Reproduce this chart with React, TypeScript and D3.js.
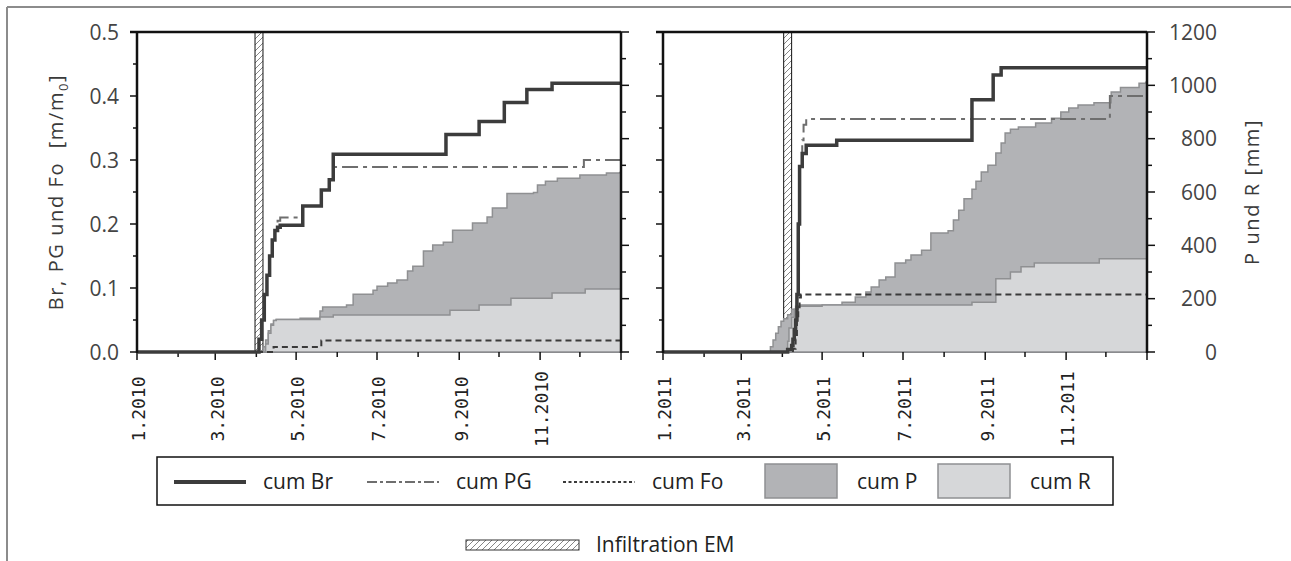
import React from "react";
import * as d3 from "d3";

type Pt = [string, number];

// ---------- tick labels ----------
const yLeftMajor = [0, 0.1, 0.2, 0.3, 0.4, 0.5];
const yLeftMinor = [0.05, 0.15, 0.25, 0.35, 0.45];
const yRightMajor = [0, 200, 400, 600, 800, 1000, 1200];
const yRightMinor = [100, 300, 500, 700, 900, 1100];
const xLabels2010 = ["1.2010", "3.2010", "5.2010", "7.2010", "9.2010", "11.2010"];
const xLabels2011 = ["1.2011", "3.2011", "5.2011", "7.2011", "9.2011", "11.2011"];
const legendNames = ["cum Br", "cum PG", "cum Fo", "cum P", "cum R"];
const infiltrationName = "Infiltration EM";

// ---------- 2010 series (Br, PG, Fo in m/m0; P, R in mm) ----------
const br2010: Pt[] = [
  ["2010-01-01", 0], ["2010-04-01", 0], ["2010-04-03", 0.02], ["2010-04-05", 0.05],
  ["2010-04-07", 0.09], ["2010-04-09", 0.12], ["2010-04-11", 0.15], ["2010-04-13", 0.175],
  ["2010-04-15", 0.19], ["2010-04-17", 0.195], ["2010-04-19", 0.198], ["2010-05-06", 0.228],
  ["2010-05-20", 0.253], ["2010-05-26", 0.269], ["2010-05-29", 0.309], ["2010-08-22", 0.34],
  ["2010-09-16", 0.36], ["2010-10-05", 0.39], ["2010-10-22", 0.41], ["2010-11-10", 0.42],
];
const pg2010: Pt[] = [
  ["2010-01-01", 0], ["2010-04-01", 0], ["2010-04-03", 0.02], ["2010-04-05", 0.05],
  ["2010-04-07", 0.09], ["2010-04-09", 0.12], ["2010-04-11", 0.15], ["2010-04-13", 0.175],
  ["2010-04-15", 0.19], ["2010-04-17", 0.205], ["2010-04-19", 0.21], ["2010-05-06", 0.228],
  ["2010-05-20", 0.253], ["2010-05-26", 0.269], ["2010-05-29", 0.289], ["2010-12-04", 0.3],
];
const fo2010: Pt[] = [["2010-01-01", 0], ["2010-04-14", 0.008], ["2010-05-20", 0.018]];
const p2010: Pt[] = [
  ["2010-01-01", 0], ["2010-04-04", 0], ["2010-04-06", 20], ["2010-04-08", 45], ["2010-04-10", 80],
  ["2010-04-12", 105], ["2010-04-14", 118], ["2010-04-16", 122], ["2010-05-04", 127],
  ["2010-05-19", 154], ["2010-05-21", 169], ["2010-06-08", 176], ["2010-06-13", 217],
  ["2010-06-28", 232], ["2010-07-01", 247], ["2010-07-09", 259], ["2010-07-16", 270],
  ["2010-07-24", 304], ["2010-07-28", 322], ["2010-08-05", 379], ["2010-08-12", 401],
  ["2010-08-20", 412], ["2010-08-27", 457], ["2010-09-11", 484], ["2010-09-22", 506],
  ["2010-09-26", 540], ["2010-10-07", 594], ["2010-10-27", 598], ["2010-10-30", 626],
  ["2010-11-05", 640], ["2010-11-14", 652], ["2010-12-01", 664], ["2010-12-21", 671],
  ["2010-12-31", 673],
];
const r2010: Pt[] = [
  ["2010-01-01", 0], ["2010-04-06", 0], ["2010-04-08", 30], ["2010-04-10", 70], ["2010-04-12", 100],
  ["2010-04-14", 118], ["2010-04-16", 122], ["2010-05-19", 131], ["2010-05-29", 139],
  ["2010-08-25", 157], ["2010-09-16", 176], ["2010-10-10", 202], ["2010-11-10", 221],
  ["2010-12-05", 236],
];
const infil2010 = { start: "2010-03-31", end: "2010-04-06", from: 0, to: 0.5 };

// ---------- 2011 series ----------
const br2011: Pt[] = [
  ["2011-01-01", 0], ["2011-04-01", 0], ["2011-04-05", 0.004], ["2011-04-08", 0.01],
  ["2011-04-09", 0.02], ["2011-04-10", 0.035], ["2011-04-11", 0.05], ["2011-04-12", 0.09],
  ["2011-04-13", 0.2], ["2011-04-14", 0.29], ["2011-04-16", 0.31], ["2011-04-19", 0.323],
  ["2011-05-12", 0.331], ["2011-08-22", 0.394], ["2011-09-07", 0.433], ["2011-09-13", 0.444],
];
const pg2011: Pt[] = [
  ["2011-01-01", 0], ["2011-04-01", 0], ["2011-04-05", 0.004], ["2011-04-08", 0.01],
  ["2011-04-09", 0.02], ["2011-04-10", 0.035], ["2011-04-11", 0.05], ["2011-04-12", 0.09],
  ["2011-04-13", 0.2], ["2011-04-14", 0.29], ["2011-04-16", 0.331], ["2011-04-17", 0.355],
  ["2011-04-19", 0.364], ["2011-12-04", 0.4],
];
const fo2011: Pt[] = [
  ["2011-01-01", 0], ["2011-04-09", 0.005], ["2011-04-11", 0.02], ["2011-04-12", 0.05],
  ["2011-04-13", 0.07], ["2011-04-14", 0.085], ["2011-04-15", 0.09],
];
const p2011: Pt[] = [
  ["2011-01-01", 0], ["2011-03-21", 0], ["2011-03-23", 20], ["2011-03-25", 45], ["2011-03-27", 70],
  ["2011-03-29", 95], ["2011-03-31", 115], ["2011-04-02", 125], ["2011-04-05", 140],
  ["2011-04-08", 160], ["2011-04-11", 172], ["2011-04-14", 176], ["2011-05-16", 187],
  ["2011-05-26", 206], ["2011-06-03", 225], ["2011-06-07", 244], ["2011-06-13", 270],
  ["2011-06-18", 281], ["2011-06-25", 334], ["2011-07-03", 345], ["2011-07-07", 364],
  ["2011-07-15", 382], ["2011-07-22", 446], ["2011-08-04", 455], ["2011-08-08", 495],
  ["2011-08-12", 532], ["2011-08-16", 575], ["2011-08-22", 610], ["2011-08-25", 640],
  ["2011-08-29", 675], ["2011-09-03", 700], ["2011-09-09", 746], ["2011-09-13", 784],
  ["2011-09-16", 821], ["2011-09-20", 835], ["2011-09-26", 844], ["2011-10-09", 859],
  ["2011-10-21", 877], ["2011-10-28", 900], ["2011-11-03", 915], ["2011-11-10", 926],
  ["2011-11-22", 935], ["2011-12-05", 975], ["2011-12-12", 992], ["2011-12-26", 1008],
  ["2011-12-31", 1012],
];
const r2011: Pt[] = [
  ["2011-01-01", 0], ["2011-04-04", 0], ["2011-04-05", 40], ["2011-04-06", 90], ["2011-04-08", 130],
  ["2011-04-10", 160], ["2011-04-13", 172], ["2011-05-01", 176], ["2011-08-22", 187],
  ["2011-09-09", 275], ["2011-09-20", 300], ["2011-09-28", 320], ["2011-10-08", 334],
  ["2011-11-26", 350],
];
const infil2011 = { start: "2011-04-02", end: "2011-04-08", from: 0.05, to: 0.5 };

// ---------- layout ----------
const W = 1291;
const H = 561;
const TOP = 32;
const BOT = 352;
const FONT = "'Open Sans', 'Noto Sans', sans-serif";
const MONO = "'DejaVu Sans Mono', monospace";

const C = {
  br: "#3c3c3c",
  pg: "#6e6e6e",
  fo: "#3a3a3a",
  pFill: "#b2b3b6",
  rFill: "#d6d7d9",
  edge: "#8f9092",
  text: "#3a3a3a",
};

const parse = d3.timeParse("%Y-%m-%d");

type PanelProps = {
  year: number;
  x0: number;
  x1: number;
  br: Pt[];
  pg: Pt[];
  fo: Pt[];
  p: Pt[];
  r: Pt[];
  infil: { start: string; end: string; from: number; to: number };
  xLabels: string[];
  leftLabels: boolean;
  rightLabels: boolean;
};

function Panel(props: PanelProps) {
  const { year, x0, x1, br, pg, fo, p, r, infil, xLabels, leftLabels, rightLabels } = props;
  const x = d3.scaleTime().domain([new Date(year, 0, 1), new Date(year + 1, 0, 1)]).range([x0, x1]);
  const y = d3.scaleLinear().domain([0, 0.5]).range([BOT, TOP]);
  const ym = d3.scaleLinear().domain([0, 1200]).range([BOT, TOP]);

  const toPts = (s: Pt[]) => {
    const pts = s.map(([d, v]) => ({ d: parse(d) as Date, v }));
    pts.push({ d: x.domain()[1], v: pts[pts.length - 1].v });
    return pts;
  };

  const line = d3
    .line<{ d: Date; v: number }>()
    .x((d) => x(d.d))
    .y((d) => y(d.v))
    .curve(d3.curveStepAfter);
  const area = d3
    .area<{ d: Date; v: number }>()
    .x((d) => x(d.d))
    .y0(ym(0))
    .y1((d) => ym(d.v))
    .curve(d3.curveStepAfter);

  const months = d3.timeMonth.range(new Date(year, 0, 1), new Date(year + 1, 0, 2));
  const labelDates = xLabels.map((l) => new Date(year, parseInt(l.split(".")[0], 10) - 1, 1));

  const ix0 = x(parse(infil.start) as Date);
  const ix1 = x(parse(infil.end) as Date);

  return (
    <g>
      {/* infiltration bar */}
      <rect x={ix0} y={y(infil.to)} width={ix1 - ix0} height={y(infil.from) - y(infil.to)} fill="url(#hatch)" stroke="#111" strokeWidth={1} />

      {/* bottom axis line */}
      <line x1={x0} x2={x1} y1={BOT} y2={BOT} stroke="#111" strokeWidth={1.5} />

      {/* areas */}
      <path d={area(toPts(p)) || ""} fill={C.pFill} stroke={C.edge} strokeWidth={1.5} />
      <path d={area(toPts(r)) || ""} fill={C.rFill} stroke={C.edge} strokeWidth={1.5} />

      {/* bottom ticks */}
      {months.map((m, i) => {
        const major = m.getMonth() % 2 === 0;
        return <line key={i} x1={x(m)} x2={x(m)} y1={BOT} y2={BOT + (major ? 8 : 5)} stroke="#111" strokeWidth={1.5} />;
      })}
      {xLabels.map((l, i) => (
        <text
          key={l}
          transform={`translate(${x(labelDates[i]) + 2},${409}) rotate(-90)`}
          textAnchor="middle"
          dy="0.35em"
          fontFamily={MONO}
          fontSize={18}
          fill="#222"
        >
          {l}
        </text>
      ))}

      {/* left axis ticks (m/m0) */}
      {yLeftMajor.map((v) => (
        <line key={"lm" + v} x1={x0 - 7} x2={x0} y1={y(v)} y2={y(v)} stroke="#111" strokeWidth={1.5} />
      ))}
      {yLeftMinor.map((v) => (
        <line key={"ln" + v} x1={x0 - 4} x2={x0} y1={y(v)} y2={y(v)} stroke="#111" strokeWidth={1.5} />
      ))}
      {leftLabels &&
        yLeftMajor.map((v) => (
          <text key={"lt" + v} x={x0 - 18} y={y(v)} dy="0.36em" textAnchor="end" fontFamily={FONT} fontSize={21} fill="#444">
            {d3.format(".1f")(v)}
          </text>
        ))}

      {/* right axis ticks (mm) */}
      {yRightMajor.map((v) => (
        <line key={"rm" + v} x1={x1} x2={x1 + 8} y1={ym(v)} y2={ym(v)} stroke="#111" strokeWidth={1.5} />
      ))}
      {yRightMinor.map((v) => (
        <line key={"rn" + v} x1={x1} x2={x1 + 5} y1={ym(v)} y2={ym(v)} stroke="#111" strokeWidth={1.5} />
      ))}
      {rightLabels &&
        yRightMajor.map((v) => (
          <text key={"rt" + v} x={x1 + 70} y={ym(v)} dy="0.36em" textAnchor="end" fontFamily={FONT} fontSize={21} fill="#444">
            {v}
          </text>
        ))}

      {/* lines */}
      <path d={line(toPts(fo)) || ""} fill="none" stroke={C.fo} strokeWidth={2} strokeDasharray="6,4" />
      <path d={line(toPts(pg)) || ""} fill="none" stroke={C.pg} strokeWidth={2} strokeDasharray="16,5,4,5" />
      <path d={line(toPts(br)) || ""} fill="none" stroke={C.br} strokeWidth={3.5} />

      {/* frame */}
      <line x1={x0 - 7} x2={x1} y1={TOP} y2={TOP} stroke="#111" strokeWidth={2.5} />
      <line x1={x0} x2={x0} y1={TOP} y2={BOT + 1} stroke="#111" strokeWidth={2.5} />
      <line x1={x1} x2={x1} y1={TOP} y2={BOT + 1} stroke="#111" strokeWidth={2.5} />
    </g>
  );
}

export default function App() {
  const legendLines = [
    { name: legendNames[0], x: 174, stroke: C.br, width: 4, dash: "" },
    { name: legendNames[1], x: 367, stroke: C.pg, width: 2, dash: "10,3,3,3" },
    { name: legendNames[2], x: 563, stroke: C.fo, width: 2, dash: "3,2.5" },
  ];
  const legendBoxes = [
    { name: legendNames[3], x: 765, fill: C.pFill },
    { name: legendNames[4], x: 938, fill: C.rFill },
  ];
  return (
    <svg width={W} height={H} style={{ position: "absolute", left: 0, top: 0, background: "#fff" }}>
      <defs>
        <pattern id="hatch" patternUnits="userSpaceOnUse" width="6" height="6">
          <path d="M0,6 L6,0 M-1.5,1.5 L1.5,-1.5 M4.5,7.5 L7.5,4.5" stroke="#666" strokeWidth={0.8} />
        </pattern>
      </defs>
      <rect x={0} y={0} width={W} height={H} fill="#fff" />
      {/* outer frame */}
      <line x1={7} x2={W} y1={7} y2={7} stroke="#8c8c8c" strokeWidth={2} />
      <line x1={7} x2={7} y1={7} y2={H} stroke="#8c8c8c" strokeWidth={2} />

      <Panel year={2010} x0={137} x1={621} br={br2010} pg={pg2010} fo={fo2010} p={p2010} r={r2010} infil={infil2010} xLabels={xLabels2010} leftLabels={true} rightLabels={false} />
      <Panel year={2011} x0={663} x1={1147} br={br2011} pg={pg2011} fo={fo2011} p={p2011} r={r2011} infil={infil2011} xLabels={xLabels2011} leftLabels={false} rightLabels={true} />

      {/* axis titles */}
      <text transform={`translate(56,${(TOP + BOT) / 2}) rotate(-90)`} textAnchor="middle" dy="0.35em" fontFamily={FONT} fontSize={20} letterSpacing={1.6} fill={C.text} style={{ whiteSpace: "pre" }}>
        {"Br, PG und Fo  [m/m"}
        <tspan fontSize={13} dy="5">0</tspan>
        <tspan dy="-5">]</tspan>
      </text>
      <text transform={`translate(1252,${(TOP + BOT) / 2}) rotate(-90)`} textAnchor="middle" dy="0.35em" fontFamily={FONT} fontSize={20} letterSpacing={1.6} fill={C.text}>
        P und R [mm]
      </text>

      {/* legend */}
      <rect x={157} y={457} width={956} height={48} fill="#fff" stroke="#111" strokeWidth={1.5} />
      {legendLines.map((l) => (
        <g key={l.name}>
          <line x1={l.x} x2={l.x + 72} y1={482} y2={482} stroke={l.stroke} strokeWidth={l.width} strokeDasharray={l.dash || undefined} />
          <text x={l.x + 89} y={482} dy="0.35em" fontFamily={FONT} fontSize={21} fill="#222">
            {l.name}
          </text>
        </g>
      ))}
      {legendBoxes.map((b) => (
        <g key={b.name}>
          <rect x={b.x} y={464} width={72} height={34} fill={b.fill} stroke={C.edge} strokeWidth={1.5} />
          <text x={b.x + 92} y={482} dy="0.35em" fontFamily={FONT} fontSize={21} fill="#222">
            {b.name}
          </text>
        </g>
      ))}
      <rect x={466} y={540} width={113} height={10} fill="url(#hatch)" stroke="#333" strokeWidth={1} />
      <text x={596} y={545} dy="0.35em" fontFamily={FONT} fontSize={21} fill="#222">
        {infiltrationName}
      </text>
    </svg>
  );
}
